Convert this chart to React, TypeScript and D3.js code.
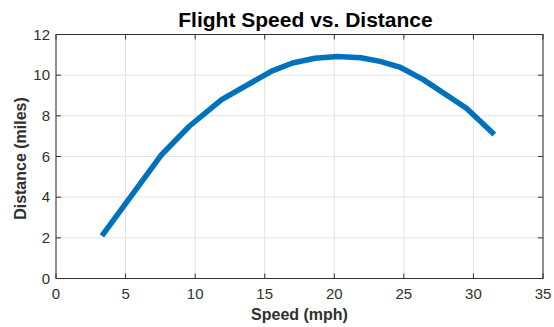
import React from "react";
import * as d3 from "d3";

const speeds = [3.3, 7.6, 9.6, 11.9, 15.5, 17.0, 18.6, 20.2, 21.9, 23.3, 24.7, 26.4, 29.5, 31.5];
const distances = [2.1, 6.1, 7.5, 8.8, 10.2, 10.6, 10.83, 10.92, 10.86, 10.68, 10.4, 9.78, 8.37, 7.08];
const xTicks = [0, 5, 10, 15, 20, 25, 30, 35];
const yTicks = [0, 2, 4, 6, 8, 10, 12];

const W = 554, H = 327;
const L = 56, R = 543, T = 34.5, B = 278.5;
const font = "'Liberation Sans', Arial, Helvetica, sans-serif";
const axisColor = "#303030";

export default function App() {
  const x = d3.scaleLinear().domain([0, 35]).range([L, R]);
  const y = d3.scaleLinear().domain([0, 12]).range([B, T]);
  const pts = speeds.map((s, i) => [s, distances[i]] as [number, number]);
  const line = d3.line<[number, number]>().x(d => x(d[0])).y(d => y(d[1]));
  return (
    <svg width={W} height={H} style={{ position: "absolute", left: 0, top: 0, background: "#fff" }}>
      <rect x={0} y={0} width={W} height={H} fill="#fff" />
      {xTicks.map(t => (
        <line key={"gx" + t} x1={x(t)} x2={x(t)} y1={T} y2={B} stroke="#e3e3e3" strokeWidth={1} />
      ))}
      {yTicks.map(t => (
        <line key={"gy" + t} x1={L} x2={R} y1={y(t)} y2={y(t)} stroke="#e3e3e3" strokeWidth={1} />
      ))}
      <path d={line(pts) || ""} fill="none" stroke="#0072BD" strokeWidth={5.5} strokeLinejoin="round" />
      <rect x={L} y={T} width={R - L} height={B - T} fill="none" stroke={axisColor} strokeWidth={1} />
      {xTicks.map(t => (
        <g key={"tx" + t}>
          <line x1={x(t)} x2={x(t)} y1={B} y2={B - 5} stroke={axisColor} />
          <line x1={x(t)} x2={x(t)} y1={T} y2={T + 5} stroke={axisColor} />
          <text x={x(t)} y={299} textAnchor="middle" fontFamily={font} fontSize={15} fill={axisColor}>{t}</text>
        </g>
      ))}
      {yTicks.map(t => (
        <g key={"ty" + t}>
          <line x1={L} x2={L + 5} y1={y(t)} y2={y(t)} stroke={axisColor} />
          <line x1={R} x2={R - 5} y1={y(t)} y2={y(t)} stroke={axisColor} />
          <text x={L - 6} y={y(t) + 5.3} textAnchor="end" fontFamily={font} fontSize={15} fill={axisColor}>{t}</text>
        </g>
      ))}
      <text x={(L + R) / 2 + 6} y={26.7} textAnchor="middle" fontFamily={font} fontSize={21} fontWeight="bold" fill="#000">Flight Speed vs. Distance</text>
      <text x={(L + R) / 2} y={319.5} textAnchor="middle" fontFamily={font} fontSize={16} fontWeight="bold" fill={axisColor}>Speed (mph)</text>
      <text transform={`translate(26,${(T + B) / 2 + 2}) rotate(-90)`} textAnchor="middle" fontFamily={font} fontSize={16} fontWeight="bold" fill={axisColor}>Distance (miles)</text>
    </svg>
  );
}
